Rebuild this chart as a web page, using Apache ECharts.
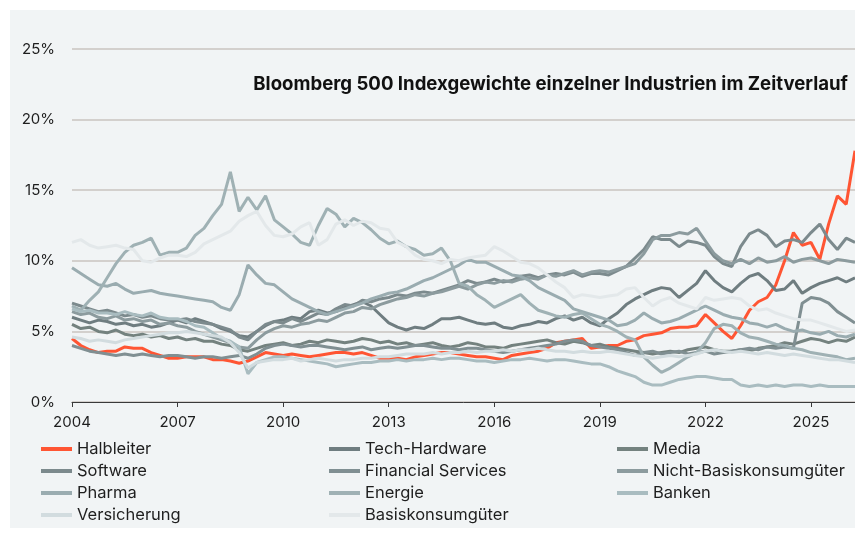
<!DOCTYPE html>
<html>
<head>
<meta charset="utf-8">
<script src="https://cdn.jsdelivr.net/npm/echarts@6/dist/echarts.min.js"></script>
<style>
    html, body { margin: 0; padding: 0; background: #fff; }
    #chart { width: 855px; height: 544px; }
</style>
</head>
<body>
<div id="chart"></div>
<script>
// quarterly samples, 2004 Q1 .. 2026 Q2
const quarters = [];
for (let y = 2004; y <= 2026; y++) {
    for (let q = 1; q <= 4; q++) {
        if (y === 2026 && q > 2) break;
        quarters.push(y + ' Q' + q);
    }
}

// index weights in %, one row per year (4 quarters)
const halbleiter = [
    4.5, 4.0, 3.7, 3.5,  3.6, 3.6, 3.9, 3.8,  3.8, 3.5, 3.3, 3.1,  3.1, 3.2, 3.2, 3.2,
    3.0, 3.0, 2.9, 2.75, 2.9, 3.2, 3.5, 3.4,  3.3, 3.4, 3.3, 3.2,  3.3, 3.4, 3.5, 3.5,
    3.4, 3.5, 3.3, 3.1,  3.1, 3.1, 3.0, 3.2,  3.3, 3.4, 3.5, 3.5,  3.4, 3.3, 3.2, 3.2,
    3.1, 3.0, 3.3, 3.4,  3.5, 3.6, 3.8, 4.2,  4.3, 4.4, 4.5, 3.8,  3.9, 4.0, 4.0, 4.3,
    4.4, 4.7, 4.8, 4.9,  5.2, 5.3, 5.3, 5.4,  6.2, 5.6, 5.0, 4.5,  5.4, 6.5, 7.1, 7.4,
    8.3, 10.0, 12.0, 11.1, 11.3, 10.1, 12.6, 14.6, 14.0, 17.8
];
const techHardware = [
    6.0, 5.8, 5.6, 5.8,  5.7, 5.5, 5.6, 5.4,  5.5, 5.3, 5.4, 5.6,  5.8, 5.6, 5.9, 5.7,
    5.5, 5.2, 5.0, 4.7,  4.6, 5.0, 5.4, 5.7,  5.8, 6.0, 5.9, 6.4,  6.5, 6.3, 6.4, 6.7,
    6.9, 7.1, 6.8, 6.2,  5.6, 5.3, 5.1, 5.3,  5.2, 5.5, 5.9, 5.9,  6.0, 5.8, 5.6, 5.5,
    5.6, 5.3, 5.2, 5.4,  5.5, 5.7, 5.6, 5.9,  6.1, 5.8, 6.0, 5.6,  5.4, 5.9, 6.3, 6.9,
    7.3, 7.6, 7.9, 8.1,  8.0, 7.4, 7.9, 8.4,  9.3, 8.6, 8.1, 7.8,  8.4, 8.9, 9.1, 8.6,
    7.9, 8.0, 8.6, 7.7,  8.1, 8.4, 8.6, 8.8,  8.5, 8.8
];
const media = [
    5.5, 5.2, 5.3, 5.0,  4.9, 5.1, 4.8, 4.7,  4.8, 4.6, 4.7, 4.5,  4.6, 4.4, 4.5, 4.3,
    4.3, 4.1, 4.0, 3.7,  3.6, 3.8, 4.0, 4.1,  4.2, 4.0, 4.1, 4.3,  4.2, 4.4, 4.3, 4.2,
    4.3, 4.5, 4.4, 4.2,  4.3, 4.1, 4.2, 4.0,  4.1, 4.2, 4.0, 3.9,  4.0, 4.2, 4.1, 3.9,
    3.9, 3.8, 4.0, 4.1,  4.2, 4.3, 4.4, 4.2,  4.1, 4.3, 4.2, 4.0,  4.1, 3.9, 3.8, 3.7,
    3.6, 3.5, 3.4, 3.5,  3.6, 3.5, 3.7, 3.8,  3.9, 3.7, 3.6, 3.6,  3.7, 3.6, 3.8, 3.9,
    4.0, 4.2, 4.1, 4.3,  4.5, 4.4, 4.2, 4.4,  4.3, 4.6
];
const software = [
    7.0, 6.8, 6.6, 6.4,  6.5, 6.3, 6.1, 6.2,  6.0, 6.1, 5.9, 5.8,  5.8, 5.9, 5.7, 5.6,
    5.5, 5.3, 5.1, 4.6,  4.4, 5.0, 5.5, 5.7,  5.6, 5.9, 5.7, 6.0,  6.3, 6.2, 6.6, 6.9,
    6.8, 7.2, 7.1, 7.3,  7.4, 7.6, 7.5, 7.7,  7.8, 7.7, 7.9, 8.1,  8.3, 8.6, 8.4, 8.5,
    8.7, 8.5, 8.6, 8.9,  9.0, 8.8, 9.0, 9.1,  9.0, 9.2, 8.9, 9.1,  9.1, 9.0, 9.3, 9.6,
    10.2, 10.8, 11.7, 11.5, 11.5, 11.0, 11.4, 11.3, 11.1, 10.3, 9.8, 9.6, 11.0, 11.9, 12.2, 11.8,
    11.0, 11.4, 11.5, 11.3, 12.0, 12.6, 11.5, 10.8, 11.6, 11.3
];
const financialServices = [
    4.0, 3.8, 3.6, 3.5,  3.4, 3.3, 3.4, 3.3,  3.4, 3.3, 3.2, 3.3,  3.3, 3.2, 3.1, 3.2,
    3.2, 3.1, 3.2, 3.3,  3.1, 3.4, 3.8, 4.0,  4.1, 4.0, 3.9, 4.0,  4.0, 3.9, 3.8, 3.7,
    3.8, 3.9, 3.7, 3.8,  3.9, 3.8, 3.9, 4.0,  4.0, 3.9, 3.8, 3.8,  3.7, 3.8, 3.8, 3.7,
    3.6, 3.5, 3.6, 3.7,  3.8, 3.9, 4.0, 4.1,  4.3, 4.4, 4.3, 4.0,  3.9, 3.8, 3.7, 3.5,
    3.3, 3.5, 3.6, 3.4,  3.5, 3.6, 3.4, 3.5,  3.6, 3.4, 3.5, 3.6,  3.7, 3.8, 3.7, 3.9,
    3.8, 3.9, 3.8, 7.0,  7.4, 7.3, 7.0, 6.4,  6.0, 5.6
];
const nichtBasis = [
    6.4, 6.2, 6.3, 6.0,  5.9, 6.1, 5.8, 5.9,  5.7, 5.8, 5.5, 5.6,  5.4, 5.3, 5.0, 4.8,
    4.6, 4.4, 4.2, 3.9,  3.8, 4.4, 4.9, 5.2,  5.4, 5.3, 5.5, 5.6,  5.8, 5.7, 6.0, 6.3,
    6.4, 6.7, 6.6, 6.9,  7.1, 7.3, 7.4, 7.6,  7.5, 7.7, 7.8, 8.0,  8.2, 8.0, 8.3, 8.5,
    8.4, 8.6, 8.5, 8.7,  8.8, 8.7, 9.0, 8.9,  9.1, 9.3, 9.0, 9.2,  9.3, 9.2, 9.4, 9.6,
    9.8, 10.5, 11.5, 11.8, 11.8, 12.0, 11.9, 12.3, 11.4, 10.5, 10.0, 9.8, 10.1, 9.8, 10.2, 9.9,
    10.0, 10.3, 9.9, 10.1, 10.2, 10.0, 9.8, 10.1, 10.0, 9.9
];
const pharma = [
    9.5, 9.1, 8.7, 8.3,  8.2, 8.4, 8.0, 7.7,  7.8, 7.9, 7.7, 7.6,  7.5, 7.4, 7.3, 7.2,
    7.1, 6.7, 6.5, 7.6,  9.7, 9.0, 8.4, 8.3,  7.8, 7.3, 7.0, 6.7,  6.4, 6.2, 6.4, 6.6,
    6.8, 7.0, 7.3, 7.5,  7.7, 7.8, 8.0, 8.3,  8.6, 8.8, 9.1, 9.4,  9.7, 10.1, 9.9, 9.9,
    9.6, 9.3, 9.0, 8.9,  8.6, 8.1, 7.8, 7.5,  7.2, 6.6, 6.4, 6.2,  6.0, 5.8, 5.4, 5.5,
    5.8, 6.3, 5.9, 5.6,  5.7, 5.9, 6.2, 6.5,  6.8, 6.5, 6.2, 6.0,  5.9, 5.6, 5.5, 5.3,
    5.5, 5.2, 5.0, 5.1,  4.9, 4.8, 5.0, 4.7,  4.6, 4.8
];
const energie = [
    6.8, 6.5, 7.2, 7.8,  8.8, 9.8, 10.6, 11.1, 11.3, 11.6, 10.4, 10.6, 10.6, 10.9, 11.8, 12.3,
    13.2, 14.0, 16.3, 13.5, 14.5, 13.6, 14.6, 12.9, 12.4, 11.9, 11.3, 11.1, 12.5, 13.7, 13.3, 12.4,
    13.0, 12.7, 12.2, 11.6, 11.2, 11.4, 11.0, 10.8, 10.4, 10.5, 10.9, 10.0, 8.4, 8.2, 7.6, 7.2,
    6.7, 7.0, 7.3, 7.6,  7.0, 6.5, 6.3, 6.1,  6.0, 6.2, 6.3, 5.9,  5.5, 5.3, 5.0, 4.6,
    4.4, 3.2, 2.6, 2.1,  2.4, 2.8, 3.2, 3.5,  4.2, 5.2, 5.5, 5.4,  4.9, 4.6, 4.5, 4.3,
    4.1, 4.0, 3.8, 3.7,  3.5, 3.4, 3.3, 3.2,  3.0, 3.1
];
const banken = [
    6.6, 6.4, 6.5, 6.3,  6.3, 6.2, 6.4, 6.2,  6.1, 6.3, 6.0, 5.9,  5.9, 5.7, 5.4, 5.3,
    4.9, 4.5, 4.3, 3.9,  2.0, 2.8, 3.0, 3.2,  3.2, 3.1, 3.0, 2.9,  2.8, 2.7, 2.5, 2.6,
    2.7, 2.8, 2.8, 2.9,  2.9, 3.0, 2.9, 3.0,  3.0, 3.1, 3.0, 3.1,  3.1, 3.0, 2.9, 2.9,
    2.8, 2.9, 3.0, 3.0,  3.1, 3.0, 2.9, 3.0,  3.0, 2.9, 2.8, 2.7,  2.7, 2.5, 2.2, 2.0,
    1.8, 1.4, 1.2, 1.2,  1.4, 1.6, 1.7, 1.8,  1.8, 1.7, 1.6, 1.6,  1.2, 1.1, 1.2, 1.1,
    1.2, 1.1, 1.2, 1.2,  1.1, 1.2, 1.1, 1.1,  1.1, 1.1
];
const versicherung = [
    4.6, 4.5, 4.3, 4.4,  4.3, 4.2, 4.4, 4.5,  4.6, 4.7, 4.8, 4.9,  4.9, 5.0, 4.9, 4.8,
    4.7, 4.6, 4.2, 3.5,  2.4, 2.8, 2.9, 3.0,  3.0, 3.1, 2.9, 3.0,  3.1, 3.0, 2.9, 3.0,
    3.0, 3.1, 3.1, 3.2,  3.2, 3.3, 3.4, 3.4,  3.4, 3.5, 3.4, 3.5,  3.5, 3.6, 3.5, 3.6,
    3.6, 3.7, 3.6, 3.7,  3.7, 3.8, 3.7, 3.6,  3.6, 3.5, 3.6, 3.5,  3.5, 3.6, 3.5, 3.4,
    3.3, 3.2, 3.1, 3.2,  3.3, 3.2, 3.3, 3.4,  3.6, 3.7, 3.6, 3.5,  3.6, 3.5, 3.4, 3.5,
    3.4, 3.3, 3.4, 3.3,  3.2, 3.1, 3.0, 3.0,  2.9, 2.8
];
const basiskonsum = [
    11.3, 11.5, 11.1, 10.9, 11.0, 11.1, 10.9, 10.8, 10.0, 9.9, 10.2, 10.4, 10.4, 10.3, 10.6, 11.2,
    11.5, 11.8, 12.1, 12.8, 13.2, 13.5, 12.5, 11.8, 11.7, 11.9, 12.4, 12.7, 11.1, 11.5, 12.6, 12.9,
    12.5, 12.8, 12.7, 12.3, 12.2, 11.3, 11.0, 10.4, 10.1, 10.0, 9.8, 10.1, 10.0, 10.2, 10.3, 10.4,
    11.0, 10.7, 10.3, 9.9, 9.8, 9.5, 9.0, 8.5,  8.1, 7.4, 7.6, 7.5,  7.4, 7.5, 7.6, 8.0,
    8.1, 7.4, 6.8, 7.2,  7.4, 7.0, 6.8, 6.6,  7.4, 7.2, 7.3, 7.4,  7.3, 6.8, 6.5, 6.6,
    6.3, 6.1, 5.9, 5.8,  5.8, 5.6, 5.4, 5.2,  5.0, 5.1
];

const seriesNames = ['Halbleiter', 'Tech-Hardware', 'Media', 'Software', 'Financial Services',
    'Nicht-Basiskonsumgüter', 'Pharma', 'Energie', 'Banken', 'Versicherung', 'Basiskonsumgüter'];
const seriesData = [halbleiter, techHardware, media, software, financialServices,
    nichtBasis, pharma, energie, banken, versicherung, basiskonsum];
const seriesColors = ['#ff5533', '#6f7d80', '#74827f', '#7c8a8d', '#808f92',
    '#8c9b9e', '#9aacb0', '#9fb1b4', '#a9bcc0', '#d2dcdf', '#e3e8ea'];

const font = 'Inter, "Noto Sans", sans-serif';
const everyThreeYears = function (index) { return index % 12 === 0; };

const legendBase = {
    orient: 'vertical',
    top: 435,
    padding: 5,
    icon: 'rect',
    itemWidth: 31,
    itemHeight: 4,
    itemGap: 4,
    selectedMode: false,
    textStyle: { fontFamily: font, fontSize: 16.5, color: '#1e1e1e', lineHeight: 18 }
};

const chart = echarts.init(document.getElementById('chart'));
chart.setOption({
    backgroundColor: '#fff',
    animation: false,
    graphic: [{
        type: 'rect',
        z: -10,
        shape: { x: 10, y: 10, width: 860, height: 518 },
        style: { fill: '#f1f4f5' }
    }],
    title: {
        text: 'Bloomberg 500 Indexgewichte einzelner Industrien im Zeitverlauf',
        right: 2,
        top: 70,
        textStyle: { fontFamily: font, fontSize: 18.6, fontWeight: 'bold', color: '#111' }
    },
    legend: [
        Object.assign({}, legendBase, { left: 36, data: ['Halbleiter', 'Software', 'Pharma', 'Versicherung'] }),
        Object.assign({}, legendBase, { left: 324, data: ['Tech-Hardware', 'Financial Services', 'Energie', 'Basiskonsumgüter'] }),
        Object.assign({}, legendBase, { left: 612, data: ['Media', 'Nicht-Basiskonsumgüter', 'Banken'] })
    ],
    grid: { left: 72, right: 0, top: 49, bottom: 142 },
    xAxis: {
        type: 'category',
        data: quarters,
        boundaryGap: false,
        axisLine: { lineStyle: { color: '#3a3a3a', width: 1 } },
        axisTick: { interval: everyThreeYears, length: 5, lineStyle: { color: '#3a3a3a' } },
        axisLabel: {
            interval: everyThreeYears,
            formatter: function (value) { return value.slice(0, 4); },
            fontFamily: font, fontSize: 15, color: '#1e1e1e', margin: 13
        },
        splitLine: { show: false }
    },
    yAxis: {
        type: 'value',
        min: 0,
        max: 25,
        interval: 5,
        axisLine: { show: false },
        axisTick: { show: false },
        axisLabel: { formatter: '{value}%', fontFamily: font, fontSize: 15, color: '#1e1e1e', margin: 17 },
        splitLine: { lineStyle: { color: '#c9c4bf', width: 1.5 } }
    },
    series: seriesNames.map(function (name, i) {
        return {
            name: name,
            type: 'line',
            data: seriesData[i],
            symbol: 'none',
            color: seriesColors[i],
            lineStyle: { width: 3, color: seriesColors[i] }
        };
    })
});
</script>
</body>
</html>
